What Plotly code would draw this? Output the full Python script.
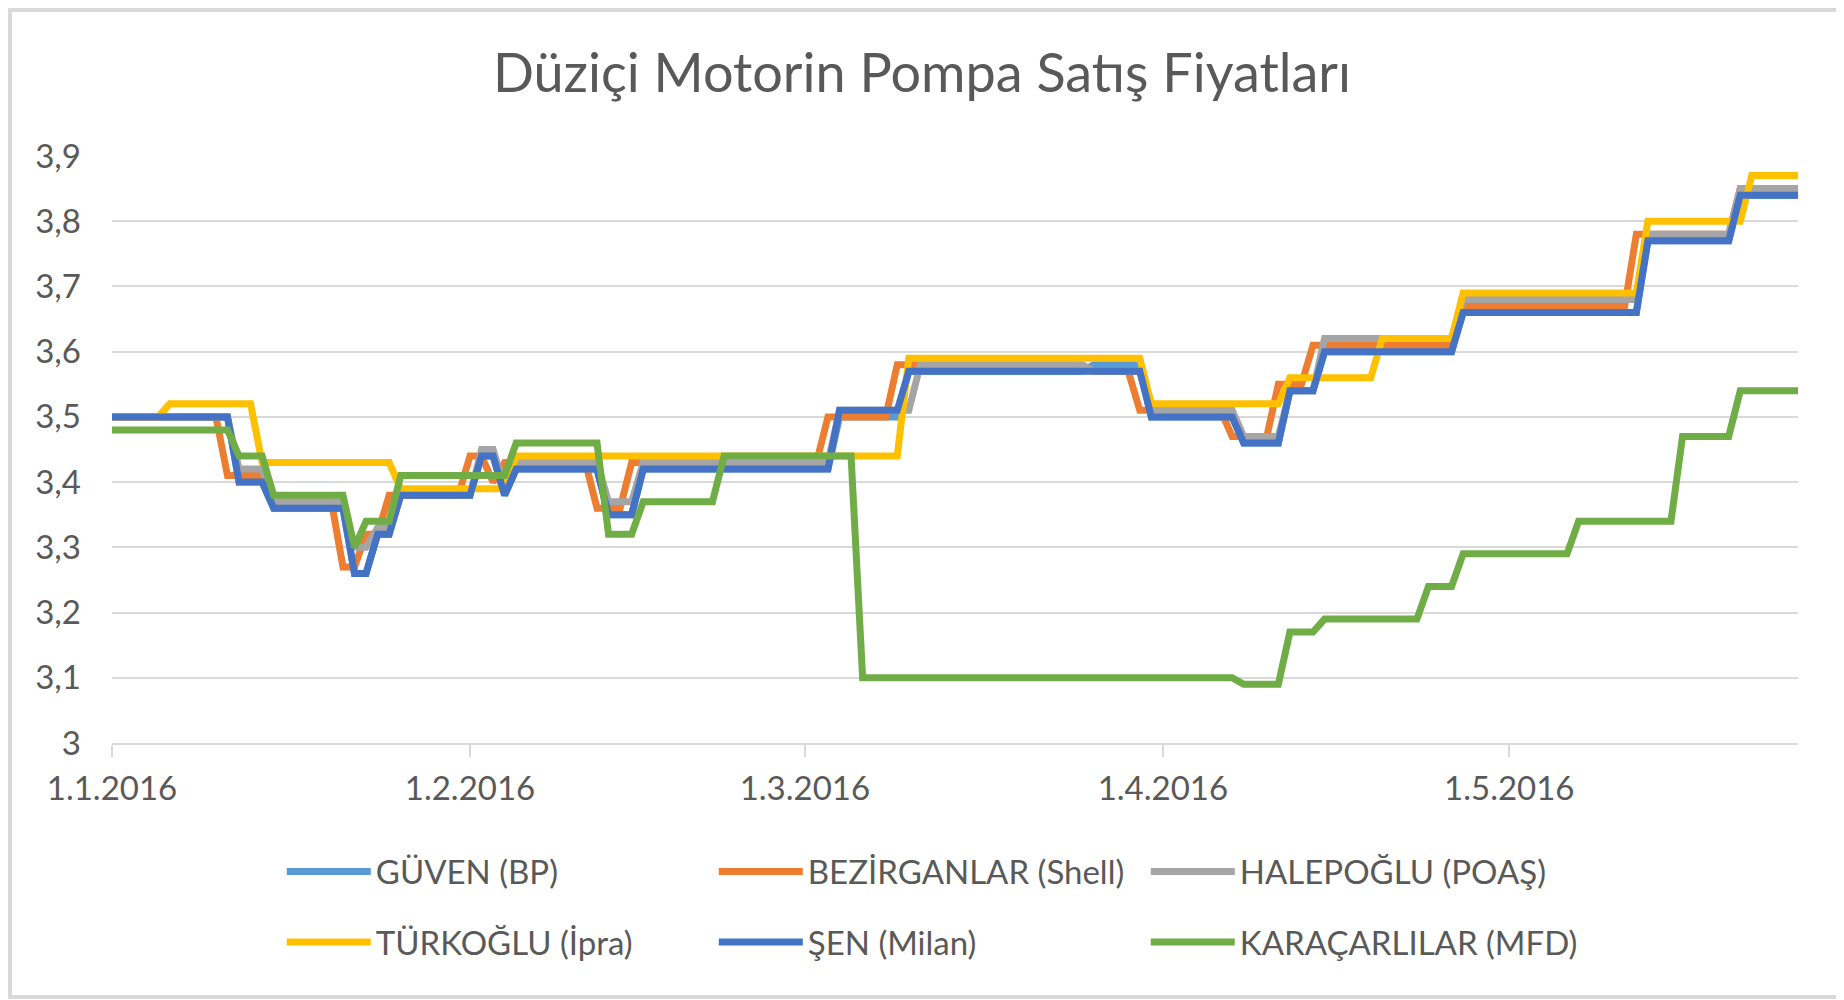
import pandas as pd
import plotly.graph_objects as go

# Fiyat değişim günleri (yeni fiyatın ilk günü) ve fiyatlar (TL/lt)
son_gun = "2016-05-26"

guven_tarih = ["2016-01-01", "2016-01-12", "2016-01-15", "2016-01-22", "2016-01-24", "2016-01-26",
               "2016-02-02", "2016-02-04", "2016-02-05", "2016-02-13", "2016-02-16", "2016-03-04",
               "2016-03-10", "2016-03-26", "2016-03-31", "2016-04-08", "2016-04-12", "2016-04-15",
               "2016-04-27", "2016-05-13", "2016-05-21"]
guven_fiyat = [3.50, 3.40, 3.36, 3.26, 3.32, 3.38, 3.44, 3.38, 3.42, 3.35, 3.42, 3.50,
               3.57, 3.58, 3.50, 3.46, 3.54, 3.60, 3.66, 3.77, 3.84]

bezirganlar_tarih = ["2016-01-01", "2016-01-11", "2016-01-15", "2016-01-21", "2016-01-23", "2016-01-25",
                     "2016-02-01", "2016-02-03", "2016-02-04", "2016-02-12", "2016-02-15", "2016-03-03",
                     "2016-03-09", "2016-03-26", "2016-03-30", "2016-04-07", "2016-04-11", "2016-04-14",
                     "2016-04-27", "2016-05-12", "2016-05-21"]
bezirganlar_fiyat = [3.50, 3.41, 3.37, 3.27, 3.32, 3.38, 3.44, 3.40, 3.43, 3.36, 3.43, 3.50,
                     3.58, 3.57, 3.51, 3.47, 3.55, 3.61, 3.67, 3.78, 3.85]

halepoglu_tarih = ["2016-01-01", "2016-01-12", "2016-01-15", "2016-01-22", "2016-01-24", "2016-01-26",
                   "2016-02-02", "2016-02-04", "2016-02-05", "2016-02-13", "2016-02-16", "2016-03-04",
                   "2016-03-11", "2016-03-26", "2016-03-31", "2016-04-08", "2016-04-12", "2016-04-15",
                   "2016-04-27", "2016-05-13", "2016-05-21"]
halepoglu_fiyat = [3.50, 3.42, 3.37, 3.30, 3.33, 3.38, 3.45, 3.39, 3.43, 3.37, 3.43, 3.51,
                   3.58, 3.57, 3.51, 3.47, 3.54, 3.62, 3.68, 3.78, 3.85]

turkoglu_tarih = ["2016-01-01", "2016-01-06", "2016-01-14", "2016-01-26", "2016-02-05", "2016-03-10",
                  "2016-03-31", "2016-04-12", "2016-04-20", "2016-04-27", "2016-05-13", "2016-05-22"]
turkoglu_fiyat = [3.50, 3.52, 3.43, 3.39, 3.44, 3.59, 3.52, 3.56, 3.62, 3.69, 3.80, 3.87]

sen_tarih = ["2016-01-01", "2016-01-12", "2016-01-15", "2016-01-22", "2016-01-24", "2016-01-26",
             "2016-02-02", "2016-02-04", "2016-02-05", "2016-02-13", "2016-02-16", "2016-03-04",
             "2016-03-10", "2016-03-31", "2016-04-08", "2016-04-12", "2016-04-15", "2016-04-27",
             "2016-05-13", "2016-05-21"]
sen_fiyat = [3.50, 3.40, 3.36, 3.26, 3.32, 3.38, 3.44, 3.38, 3.42, 3.35, 3.42, 3.51,
             3.57, 3.50, 3.46, 3.54, 3.60, 3.66, 3.77, 3.84]

karacarlilar_tarih = ["2016-01-01", "2016-01-12", "2016-01-15", "2016-01-22", "2016-01-23", "2016-01-26",
                      "2016-02-05", "2016-02-13", "2016-02-16", "2016-02-23", "2016-03-06", "2016-04-08",
                      "2016-04-12", "2016-04-15", "2016-04-24", "2016-04-27", "2016-05-07", "2016-05-16",
                      "2016-05-21"]
karacarlilar_fiyat = [3.48, 3.44, 3.38, 3.30, 3.34, 3.41, 3.46, 3.32, 3.37, 3.44, 3.10, 3.09,
                      3.17, 3.19, 3.24, 3.29, 3.34, 3.47, 3.54]

ay_tikleri = ["2016-01-01", "2016-02-01", "2016-03-01", "2016-04-01", "2016-05-01"]
ay_etiketleri = ["1.1.2016", "1.2.2016", "1.3.2016", "1.4.2016", "1.5.2016"]


def basamak(tarihler, fiyatlar):
    # her fiyatin gecerli oldugu ilk ve son gun
    bas = pd.to_datetime(tarihler)
    bit = list(bas[1:] - pd.Timedelta(days=1)) + [pd.Timestamp(son_gun)]
    x, y = [], []
    for b, e, f in zip(bas, bit, fiyatlar):
        x += [b, e]
        y += [f, f]
    return x, y


seriler = [
    ("GÜVEN (BP)", guven_tarih, guven_fiyat, "#5B9BD5", "legend"),
    ("BEZİRGANLAR (Shell)", bezirganlar_tarih, bezirganlar_fiyat, "#ED7D31", "legend"),
    ("HALEPOĞLU (POAŞ)", halepoglu_tarih, halepoglu_fiyat, "#A5A5A5", "legend"),
    ("TÜRKOĞLU (İpra)", turkoglu_tarih, turkoglu_fiyat, "#FFC000", "legend2"),
    ("ŞEN (Milan)", sen_tarih, sen_fiyat, "#4472C4", "legend2"),
    ("KARAÇARLILAR (MFD)", karacarlilar_tarih, karacarlilar_fiyat, "#70AD47", "legend2"),
]

fig = go.Figure()
for ad, tarih, fiyat, renk, lg in seriler:
    x, y = basamak(tarih, fiyat)
    fig.add_trace(go.Scatter(
        x=x, y=y, mode="lines", name=ad,
        line=dict(color=renk, width=7),
        legend=lg
    ))

yazi = "#595959"
izgara = "#D9D9D9"
font_adi = "Lato"

legend_ortak = dict(
    orientation="h", xanchor="left", x=0.1007, yanchor="middle",
    entrywidth=333, entrywidthmode="pixels", itemwidth=84,
    font=dict(family=font_adi, size=33, color=yazi),
    bgcolor="rgba(0,0,0,0)"
)

# sayfa kenar boslugu (8px) icin boyut biraz kucuk
fig.update_layout(
    width=1836, height=992,
    margin=dict(l=104, r=46, t=148, b=257),
    paper_bgcolor="white", plot_bgcolor="white",
    separators=",.",
    title=dict(
        text="Düziçi Motorin Pompa Satış Fiyatları",
        x=0.4978, xref="container", xanchor="center",
        y=0.9345, yref="container", yanchor="middle",
        font=dict(family=font_adi, size=54, color=yazi)
    ),
    font=dict(family=font_adi, size=33, color=yazi),
    xaxis=dict(
        type="date",
        range=["2016-01-01", son_gun],
        tickmode="array", tickvals=ay_tikleri, ticktext=ay_etiketleri,
        showgrid=False, zeroline=False,
        showline=True, linecolor=izgara, linewidth=2,
        ticks="outside", ticklen=12, tickwidth=2, tickcolor=izgara,
        ticklabelstandoff=3,
        tickfont=dict(family=font_adi, size=33, color=yazi)
    ),
    yaxis=dict(
        range=[3, 3.9], dtick=0.1, tick0=3,
        showgrid=True, gridcolor=izgara, gridwidth=2,
        zeroline=False, showline=False,
        ticklabelstandoff=30,
        tickfont=dict(family=font_adi, size=33, color=yazi)
    ),
    legend=dict(legend_ortak, y=-0.219),
    legend2=dict(legend_ortak, y=-0.339),
    showlegend=True,
    shapes=[dict(
        type="rect", xref="paper", yref="paper",
        x0=-0.0605, x1=1.0255, y0=-0.4327, y1=1.2487,
        line=dict(color=izgara, width=4), layer="below"
    )]
)

fig.write_html("out.html")
